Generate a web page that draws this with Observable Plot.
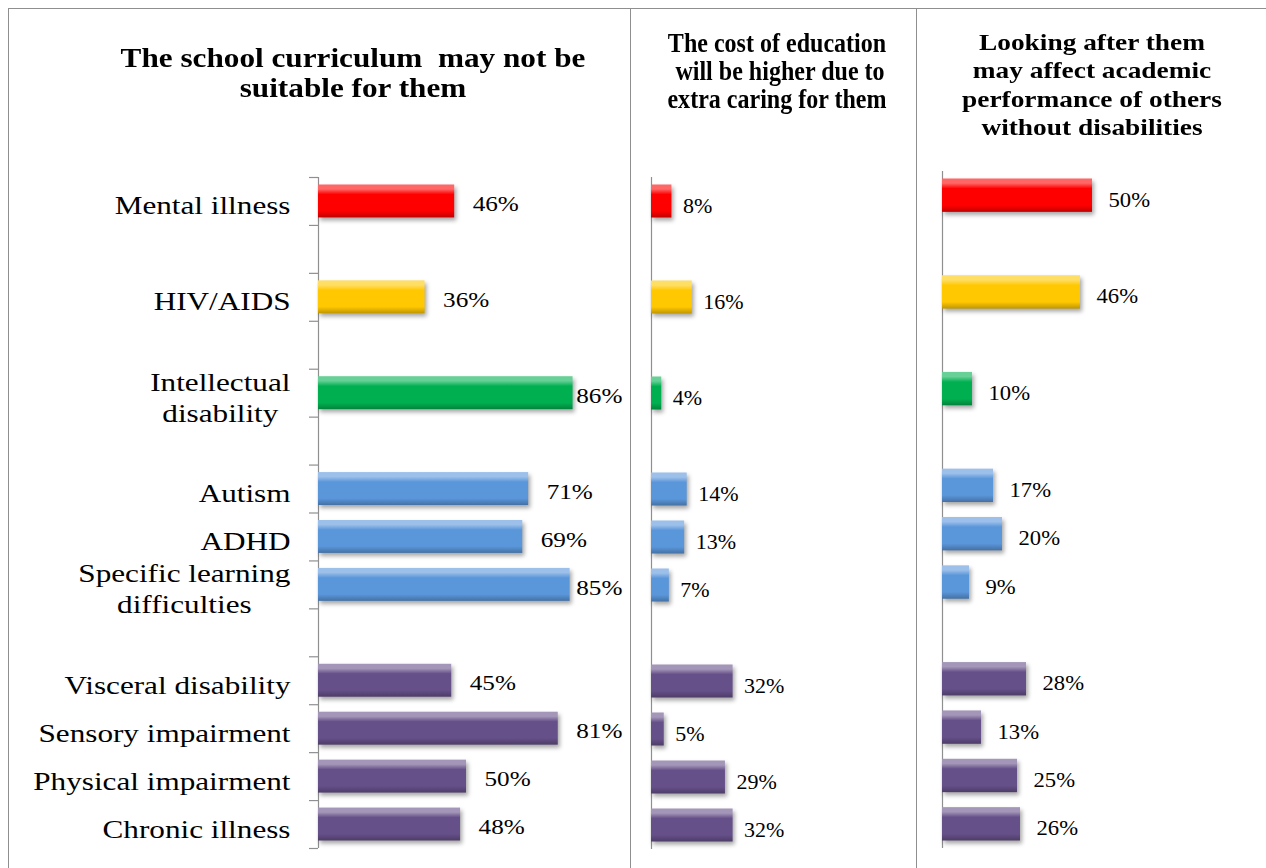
<!DOCTYPE html>
<html><head><meta charset="utf-8">
<script src="https://cdn.jsdelivr.net/npm/d3@7"></script>
<script src="https://cdn.jsdelivr.net/npm/@observablehq/plot@0.6"></script>
<style>
html,body{margin:0;padding:0;background:#fff;}
#chart{position:relative;width:1266px;height:868px;overflow:hidden;background:#fff;font-family:"Liberation Serif","Times New Roman",serif;}
.frame{position:absolute;left:8px;top:8px;width:1300px;height:900px;border:1px solid #8f8f8f;box-sizing:border-box;}
.divider{position:absolute;top:8px;width:0;height:900px;border-left:1px solid #8f8f8f;}
.panel{position:absolute;top:0;}
.title{position:absolute;font-weight:bold;text-align:center;color:#000;white-space:pre;}
.panel g[aria-label="bar"]{filter:drop-shadow(2px 3px 2px rgba(0,0,0,0.35));}
</style>
</head>
<body>
<svg width="0" height="0" style="position:absolute"><defs id="grads"></defs></svg>
<div id="chart">
  <div class="frame"></div>
  <div class="divider" style="left:630px"></div>
  <div class="divider" style="left:916px"></div>
  <div class="title" style="left:53px;top:43px;width:600px;font-size:28px;line-height:30px;transform:scaleX(1.115);transform-origin:300px 0;">The school curriculum  may not be
suitable for them</div>
  <div class="title" style="left:627px;top:29px;width:300px;font-size:27px;line-height:28px;transform:scaleX(0.89);transform-origin:150px 0;">The cost of education
 will be higher due to
extra caring for them</div>
  <div class="title" style="left:942px;top:28px;width:300px;font-size:24px;line-height:28.4px;transform:scaleX(1.14);transform-origin:150px 0;">Looking after them
may affect academic
performance of others
without disabilities</div>
</div>
<script>
// ---- data ----
const categories = ["Mental illness","HIV/AIDS","Intellectual\ndisability","Autism","ADHD","Specific learning\ndifficulties","Visceral disability","Sensory impairment","Physical impairment","Chronic illness"];
const categoryGroup = ["mental","hiv","intellectual","developmental","developmental","developmental","physical","physical","physical","physical"];
const curriculumPct = [46,36,86,71,69,85,45,81,50,48];
const costPct = [8,16,4,14,13,7,32,5,29,32];
const academicPct = [50,46,10,17,20,9,28,13,25,26];
const rowOrder = ["Mental illness","gap-1","HIV/AIDS","gap-2","Intellectual\ndisability","gap-3","Autism","ADHD","Specific learning\ndifficulties","gap-4","Visceral disability","Sensory impairment","Physical impairment","Chronic illness"];
const groups = ["mental","hiv","intellectual","developmental","physical"];
const groupColors = ["#FF0000","#FFC800","#00B050","#5A96DA","#665089"];

// ---- gradients (bevel look) ----
const defs = d3.select("#grads");
groups.forEach((g, i) => {
  const base = d3.color(groupColors[i]);
  const light = d3.interpolateRgb(base, "#ffffff")(0.4);
  const dark = base.darker(0.8).formatHex();
  const lg = defs.append("linearGradient").attr("id", "grad-" + g).attr("x1", 0).attr("y1", 0).attr("x2", 0).attr("y2", 1);
  [[0, light], [0.14, light], [0.3, base.formatHex()], [0.8, base.formatHex()], [1, dark]].forEach(([o, c]) =>
    lg.append("stop").attr("offset", o).attr("stop-color", c));
});

// horizontally stretch each text of a mark group around its own anchor
function stretch(group, s) {
  if (!group || s === 1) return;
  group.querySelectorAll("text").forEach(el => {
    const t = el.getAttribute("transform");
    if (t) el.setAttribute("transform", t + ` scale(${s},1)`);
    else {
      const x = +el.getAttribute("x") || 0, y = +el.getAttribute("y") || 0;
      el.setAttribute("transform", `translate(${x},${y}) scale(${s},1) translate(${-x},${-y})`);
    }
  });
}
// center the lines of multi-line labels on each other, keeping the block's right edge
function centerLines(group) {
  if (!group) return;
  group.querySelectorAll("text").forEach(el => {
    const spans = el.querySelectorAll("tspan");
    if (spans.length < 2) return;
    const w = Math.max(...Array.from(spans, s => s.getComputedTextLength()));
    el.setAttribute("text-anchor", "middle");
    spans.forEach(s => s.setAttribute("x", (+s.getAttribute("x") || 0) - w / 2));
  });
}

function panel({values, left, width, marginLeft, marginRight, marginTop, marginBottom, valueDx, valueDy, valueCap, valueSize, valueStretch, showCategories}) {
  const height = 868;
  const data = categories.map((c, i) => ({category: c, group: categoryGroup[i], value: values[i]}));
  const step = (height - marginTop - marginBottom) / rowOrder.length;
  const marks = [
    Plot.ruleX([0], {stroke: "#8f8f8f", strokeWidth: 1.2}),
    Plot.barX(data, {x: "value", y: "category", fill: "group", insetTop: 7.5, insetBottom: 7.5}),
    Plot.text(data, {
      x: d => valueCap ? Math.min(d.value, valueCap) : d.value, y: "category",
      text: d => d.value + "%", textAnchor: "start", dx: valueDx, dy: valueDy,
      fontSize: valueSize, fontFamily: "Liberation Serif", fill: "#000"
    })
  ];
  if (showCategories) {
    marks.push(
      Plot.ruleY(rowOrder, {y: d => d, x1: 0, x2: 0, insetLeft: -9, dy: -step / 2, stroke: "#8f8f8f", strokeWidth: 1.2}),
      Plot.ruleY(rowOrder.slice(-1), {y: d => d, x1: 0, x2: 0, insetLeft: -9, dy: step / 2, stroke: "#8f8f8f", strokeWidth: 1.2}),
      Plot.text(data, {
        x: 0, y: "category", text: "category", textAnchor: "end", dx: -28, dy: 3,
        fontSize: 26, lineHeight: 1.2, fontFamily: "Liberation Serif", fill: "#000"
      })
    );
  }
  const svg = Plot.plot({
    width, height, marginLeft, marginRight, marginTop, marginBottom,
    style: {background: "transparent", fontFamily: "Liberation Serif", overflow: "visible"},
    x: {domain: [0, 100], axis: null},
    y: {type: "band", domain: rowOrder, padding: 0, round: false, axis: null},
    color: {domain: groups, range: groups.map(g => `url(#grad-${g})`)},
    marks
  });
  svg.classList.add("panel");
  svg.style.left = left + "px";
  svg.style.position = "absolute";
  svg.style.top = "0px";
  document.getElementById("chart").appendChild(svg);
  const tg = svg.querySelectorAll('g[aria-label="text"]');
  centerLines(tg[1]);
  stretch(tg[0], valueStretch);
  stretch(tg[1], 1.2);
}

panel({values: curriculumPct, left: 8, width: 622, marginLeft: 310, marginRight: 16, marginTop: 177, marginBottom: 20,
  valueDx: 18, valueDy: 3, valueCap: 81, valueSize: 21, valueStretch: 1.2, showCategories: true});
panel({values: costPct, left: 630, width: 286, marginLeft: 21, marginRight: 10, marginTop: 177, marginBottom: 19,
  valueDx: 11, valueDy: 4.5, valueSize: 22, valueStretch: 1, showCategories: false});
panel({values: academicPct, left: 916, width: 350, marginLeft: 26, marginRight: 24, marginTop: 171, marginBottom: 20,
  valueDx: 16, valueDy: 4, valueSize: 22, valueStretch: 1.03, showCategories: false});
</script>
</body></html>
